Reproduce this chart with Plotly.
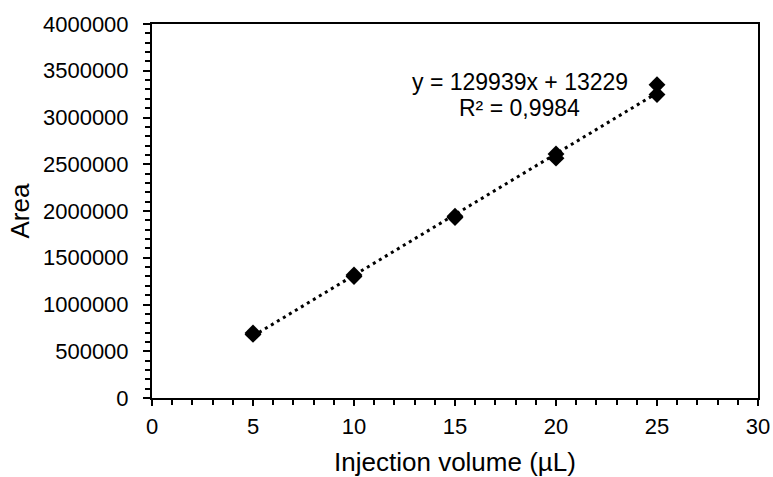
import plotly.graph_objects as go

volume = [5, 5, 10, 10, 15, 15, 20, 20, 25, 25]
area = [680000, 695000, 1300000, 1315000, 1930000, 1945000, 2565000, 2610000, 3245000, 3350000]
slope = 129939
intercept = 13229
eq_line1 = "y = 129939x + 13229"
eq_line2 = "R² = 0,9984"
trend_x = [5, 25]
trend_y = [slope * x + intercept for x in trend_x]

FONT = "Liberation Sans, Arial, sans-serif"

fig = go.Figure()
fig.add_trace(go.Scatter(x=trend_x, y=trend_y, mode="lines",
                         line=dict(color="black", width=3, dash="3px,4px"),
                         hoverinfo="skip", showlegend=False))
fig.add_trace(go.Scatter(x=volume, y=area, mode="markers",
                         marker=dict(symbol="diamond", size=13, color="black"),
                         showlegend=False))

fig.add_annotation(x=18.2, y=3375000, text=eq_line1, showarrow=False,
                   font=dict(family=FONT, size=23, color="black"))
fig.add_annotation(x=18.2, y=3100000, text=eq_line2, showarrow=False,
                   font=dict(family=FONT, size=23, color="black"))

fig.update_layout(
    width=773, height=477,
    margin=dict(l=152, r=15, t=24, b=79),
    paper_bgcolor="white", plot_bgcolor="white",
    font=dict(family=FONT, size=22, color="black"),
    showlegend=False,
)
fig.update_xaxes(range=[0, 30], dtick=5, tick0=0, showgrid=False, zeroline=False,
                 showline=True, linecolor="black", linewidth=2, mirror=True,
                 ticks="outside", ticklen=6, tickwidth=2, tickcolor="black",
                 minor=dict(dtick=1, ticks="outside", ticklen=5, tickwidth=2, tickcolor="black"),
                 ticklabelstandoff=2, automargin=False,
                 title=dict(text="Injection volume (µL)", font=dict(size=26), standoff=18),
                 tickfont=dict(size=22))
fig.update_yaxes(range=[0, 4000000], dtick=500000, tick0=0, showgrid=False, zeroline=False,
                 showline=True, linecolor="black", linewidth=2, mirror=True,
                 ticks="outside", ticklen=7, tickwidth=2, tickcolor="black",
                 minor=dict(dtick=100000, ticks="outside", ticklen=5, tickwidth=2, tickcolor="black"),
                 tickformat="d", ticklabelstandoff=10, automargin=False,
                 title=dict(text="Area", font=dict(size=26), standoff=6),
                 tickfont=dict(size=22))

fig.write_html("out.html")
